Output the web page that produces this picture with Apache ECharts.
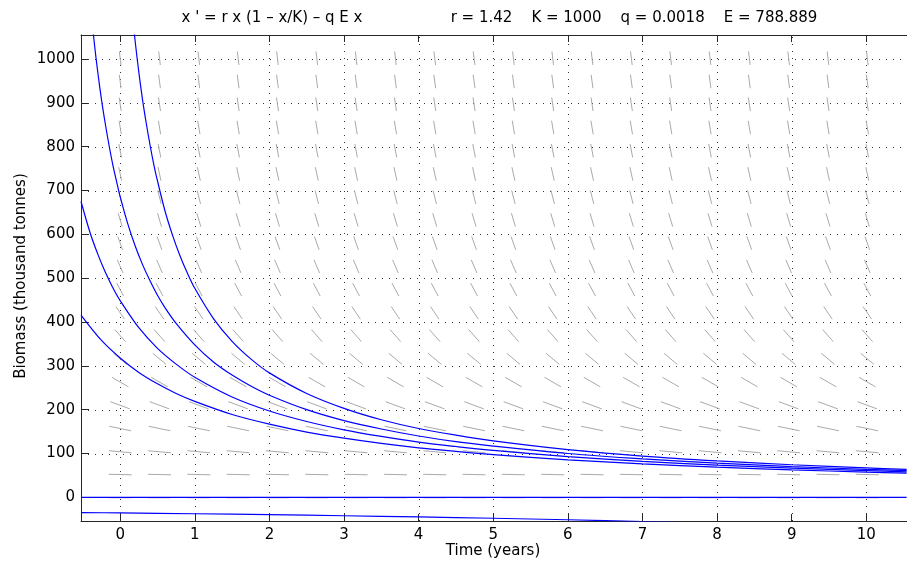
<!DOCTYPE html>
<html><head><meta charset="utf-8">
<script src="https://cdn.jsdelivr.net/npm/echarts@6/dist/echarts.min.js"></script>
<style>html,body{margin:0;padding:0;background:#fff}#c{width:907px;height:565px}</style>
</head><body><div id="c"></div>
<script>
// ---- data ----
const xTicks = [0,1,2,3,4,5,6,7,8,9,10];
const yTicks = [0,100,200,300,400,500,600,700,800,900,1000];

const curve1T = [-0.42,-0.35,-0.3,-0.25,-0.2,-0.15,-0.1,-0.05,0,0.1,0.2,0.3,0.4,0.5,0.6,0.75,1,1.25,1.5,1.75,2,2.5,3,3.5,4,4.5,5,6,7,8,9,10,10.54];
const curve1X = [1161,1042,970,907,853,804,760,722,686,625,574,531,494,461,433,397,348,309,279,254,233,200,175,156,140,127,117,100,87.7,78.0,70.2,63.9,60.9];

const curve2T = [0.12,0.15,0.2,0.25,0.3,0.35,0.4,0.45,0.5,0.6,0.7,0.8,0.9,1,1.25,1.5,1.75,2,2.5,3,3.5,4,4.5,5,6,7,8,9,10,10.54];
const curve2X = [1182,1125,1042,970,907,853,804,760,722,654,599,552,512,477,408,356,316,284,237,203,177,157,142,129,109,94.2,83.1,74.3,67.2,63.9];

const curve3T = [-0.525,-0.4,-0.3,-0.2,-0.1,0,0.25,0.5,0.75,1,1.5,2,2.5,3,3.5,4,4.5,5,6,7,8,9,10,10.54];
const curve3X = [675,602,555,514,479,449,387,340,304,274,229,197,173,154,139,126,116,107,93.0,82.2,73.6,66.6,60.9,58.2];

const curve4T = [-0.525,-0.25,0,0.25,0.5,0.75,1,1.5,2,2.5,3,3.5,4,4.5,5,6,7,8,9,10,10.54];
const curve4X = [416,358,318,285,259,237,219,189,167,149,135,123,113,105,97.6,85.7,76.4,68.9,62.8,57.6,55.2];

const curveZeroT = [-0.525,10.54];
const curveZeroX = [0,0];

const curveNegT = [-0.525,0,1,2,3,4,5,6,7,8];
const curveNegX = [-34.7,-35.6,-37.5,-39.6,-42.0,-44.7,-47.7,-51.2,-55.2,-59.8];

// direction field grid (time columns, biomass rows, slope dx/dt per row)
const fieldCols = [0,0.527,1.054,1.581,2.108,2.635,3.162,3.689,4.216,4.743,5.27,5.797,6.324,6.851,7.378,7.905,8.432,8.959,9.486,10.013];
const fieldRows = [-1,52,104,157,210,263,316,369,421,474,527,580,633,685,738,791,844,897,949,1002];
const fieldSlopes = [0,-3.8,-15.4,-35.0,-62.6,-98.2,-141.8,-193.3,-251.7,-319.0,-394.4,-477.7,-569.0,-666.3,-773.4,-888.5,-1011.5,-1142.5,-1278.9,-1425.7];

const titleLeft = "x ' = r x (1 \u2013 x/K) \u2013 q E x";
const titleRight = "r = 1.42    K = 1000    q = 0.0018    E = 788.889";
const xName = "Time (years)";
const yName = "Biomass (thousand tonnes)";

// ---- chart ----
const X_MIN = -0.525, X_MAX = 10.545, Y_MIN = -54, Y_MAX = 1055;
const SEG_LEN = 0.0279; // segment length as fraction of axes size
const FONT = 'DejaVu Sans';
const AX = '#262626';

function pairs(ts, xs){ return ts.map((t,i)=>[t, xs[i]]); }

const fieldData = [];
fieldRows.forEach((r,i)=>{ fieldCols.forEach(c=>{ fieldData.push([c, r, fieldSlopes[i]]); }); });

function curveSeries(ts, xs){
  return {type:'line', data:pairs(ts,xs), showSymbol:false, smooth:0.3, clip:true, z:5,
    lineStyle:{color:'#0000ff', width:1.2}, silent:true};
}

const chart = echarts.init(document.getElementById('c'), null, {renderer:'canvas'});
chart.setOption({
  animation:false,
  backgroundColor:'#fff',
  textStyle:{fontFamily:FONT},
  grid:{left:81, top:35, width:836, height:486, containLabel:false},
  xAxis:[{
    type:'value', min:X_MIN, max:X_MAX, position:'bottom',
    axisLine:{show:true, onZero:false, lineStyle:{color:AX, width:1}},
    axisTick:{show:true, inside:true, length:7, customValues:xTicks, lineStyle:{color:AX}},
    axisLabel:{show:true, customValues:xTicks, margin:7, color:'#000', fontSize:15, fontFamily:FONT, formatter:v=>String(v)},
    splitLine:{show:false}
  },{
    type:'value', min:X_MIN, max:X_MAX, position:'top',
    axisLine:{show:true, onZero:false, lineStyle:{color:AX, width:1}},
    axisTick:{show:true, inside:true, length:7, customValues:xTicks, lineStyle:{color:AX}},
    axisLabel:{show:false}, splitLine:{show:false}
  }],
  yAxis:[{
    type:'value', min:Y_MIN, max:Y_MAX, position:'left',
    axisLine:{show:true, onZero:false, lineStyle:{color:AX, width:1}},
    axisTick:{show:true, inside:true, length:8, customValues:yTicks, lineStyle:{color:AX}},
    axisLabel:{show:true, customValues:yTicks, margin:6, color:'#000', fontSize:15, fontFamily:FONT, formatter:v=>String(v)},
    splitLine:{show:false}
  }],
  graphic:[
    {type:'text', x:272, y:18, style:{text:titleLeft, font:'15px "DejaVu Sans"', fill:'#000', align:'center', verticalAlign:'middle'}},
    {type:'text', x:634, y:18, style:{text:titleRight, font:'15px "DejaVu Sans"', fill:'#000', align:'center', verticalAlign:'middle'}},
    {type:'text', x:493, y:551, style:{text:xName, font:'15px "DejaVu Sans"', fill:'#000', align:'center', verticalAlign:'middle'}},
    {type:'text', x:21, y:276, rotation:Math.PI/2, style:{text:yName, font:'15px "DejaVu Sans"', fill:'#000', align:'center', verticalAlign:'middle'}}
  ],
  series:[
    { // vertical dotted grid
      type:'custom', z:1, silent:true, clip:true,
      data:xTicks.map(v=>[v,0]), encode:{x:0,y:1},
      renderItem:(params, api)=>{
        const a = api.coord([api.value(0), Y_MIN]), b = api.coord([api.value(0), Y_MAX]);
        const x = Math.round(a[0]) + 0.5;
        return {type:'line', shape:{x1:x, y1:a[1], x2:x, y2:b[1]}, style:{stroke:'#333', lineWidth:1, lineDash:[1,6]}};
      }
    },
    { // horizontal dotted grid
      type:'custom', z:1, silent:true, clip:true,
      data:yTicks.map(v=>[0,v]), encode:{x:0,y:1},
      renderItem:(params, api)=>{
        const a = api.coord([X_MIN, api.value(1)]), b = api.coord([X_MAX, api.value(1)]);
        const y = Math.round(a[1]) + 0.5;
        return {type:'line', shape:{x1:a[0], y1:y, x2:b[0], y2:y}, style:{stroke:'#333', lineWidth:1, lineDash:[1,6]}};
      }
    },
    { // direction field
      type:'custom', z:2, silent:true, clip:true,
      data:fieldData, encode:{x:0,y:1},
      renderItem:(params, api)=>{
        const t = api.value(0), x = api.value(1), s = api.value(2);
        const W = X_MAX - X_MIN, H = Y_MAX - Y_MIN;
        const nx = 1/W, ny = s/H, n = Math.hypot(nx, ny);
        const dt = SEG_LEN/2*nx/n*W, dx = SEG_LEN/2*ny/n*H;
        const p1 = api.coord([t-dt, x-dx]), p2 = api.coord([t+dt, x+dx]);
        return {type:'line', shape:{x1:p1[0], y1:p1[1], x2:p2[0], y2:p2[1]}, style:{stroke:'#aaaaaa', lineWidth:1}};
      }
    },
    curveSeries(curve1T, curve1X),
    curveSeries(curve2T, curve2X),
    curveSeries(curve3T, curve3X),
    curveSeries(curve4T, curve4X),
    curveSeries(curveZeroT, curveZeroX),
    curveSeries(curveNegT, curveNegX)
  ]
});
</script></body></html>
